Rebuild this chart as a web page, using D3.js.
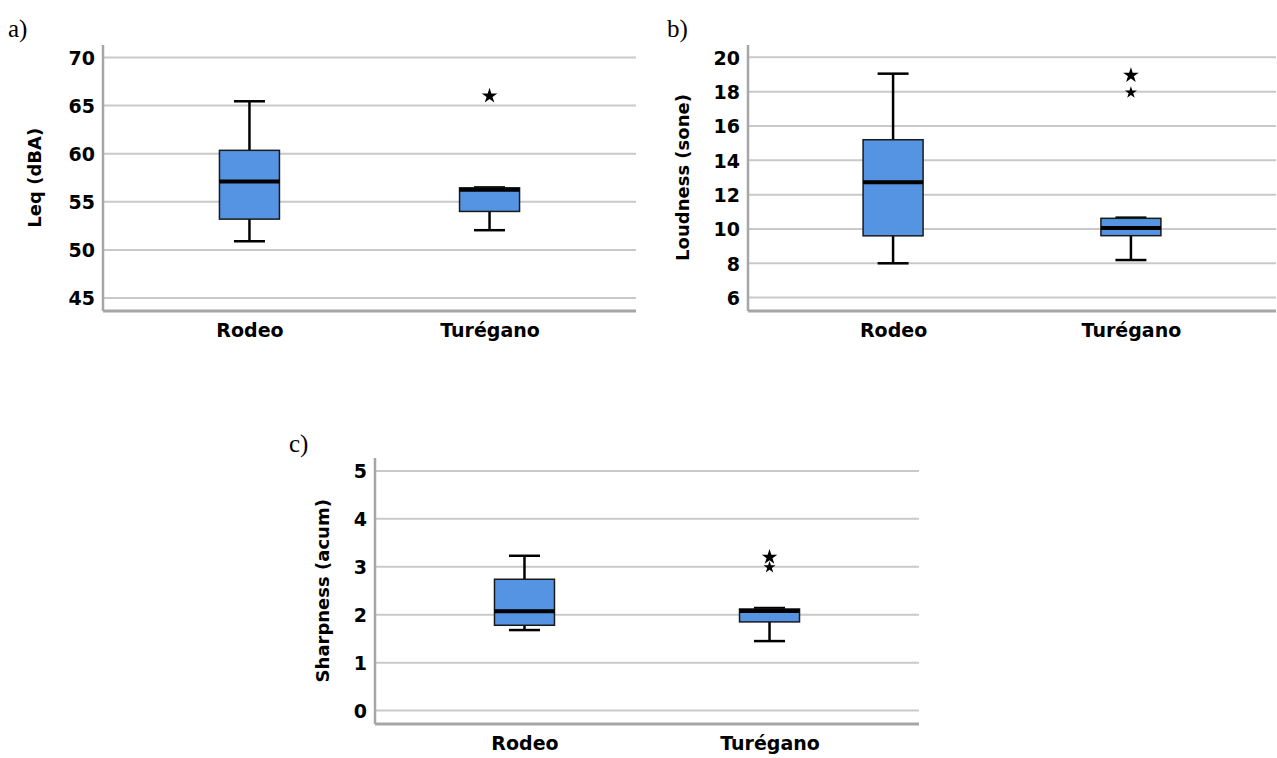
<!DOCTYPE html>
<html>
<head>
<meta charset="utf-8">
<script src="https://cdn.jsdelivr.net/npm/d3@7"></script>
<style>
  body { margin: 0; background: #fff; }
  text { font-family: "DejaVu Sans", sans-serif; font-weight: bold; }
  .panel-label { font-family: "Liberation Serif", serif; font-weight: normal; font-size: 25px; }
</style>
</head>
<body>
<script>
const categories = ["Rodeo", "Turégano"];

// [lowWhisker, q1, median, q3, highWhisker] per category
const leqStats = [[50.9, 53.2, 57.1, 60.35, 65.45], [52.05, 54.0, 56.25, 56.45, 56.5]];
const leqOutliers = [{ cat: "Turégano", value: 66.0, big: true }];
const leqTicks = [45, 50, 55, 60, 65, 70];

const loudStats = [[8.0, 9.6, 12.72, 15.2, 19.05], [8.19, 9.61, 10.05, 10.62, 10.66]];
const loudOutliers = [{ cat: "Turégano", value: 18.95, big: true }, { cat: "Turégano", value: 17.95, big: false }];
const loudTicks = [6, 8, 10, 12, 14, 16, 18, 20];

const sharpStats = [[1.68, 1.78, 2.07, 2.74, 3.23], [1.45, 1.85, 2.08, 2.12, 2.14]];
const sharpOutliers = [{ cat: "Turégano", value: 3.2, big: true }, { cat: "Turégano", value: 2.99, big: false }];
const sharpTicks = [0, 1, 2, 3, 4, 5];

const svg = d3.select("body").append("svg")
    .attr("width", 1277)
    .attr("height", 758);

function drawPanel(opt) {
    const x = d3.scalePoint()
        .domain(categories)
        .range([opt.left, opt.right])
        .padding(0.61);

    const y = d3.scaleLinear()
        .domain(opt.domain)
        .range([opt.bottom, opt.top]);

    const g = svg.append("g");

    // panel label
    g.append("text")
        .attr("class", "panel-label")
        .attr("x", opt.labelX)
        .attr("y", opt.labelY)
        .text(opt.label);

    // grid lines
    g.selectAll(".grid")
        .data(opt.ticks)
        .enter()
        .append("line")
        .attr("x1", opt.left)
        .attr("x2", opt.right)
        .attr("y1", d => y(d))
        .attr("y2", d => y(d))
        .attr("stroke", "#c9c9c9")
        .attr("stroke-width", 2);

    // y axis with labels only
    const yAxis = d3.axisLeft(y)
        .tickValues(opt.ticks)
        .tickFormat(d3.format("d"))
        .tickSize(0)
        .tickPadding(8);
    const ya = g.append("g")
        .attr("transform", `translate(${opt.left},0)`)
        .call(yAxis);
    ya.select(".domain").remove();
    ya.selectAll("text")
        .style("font-size", "19px")
        .attr("fill", "#000")
        .attr("dy", "0.36em");

    // x axis labels
    const xAxis = d3.axisBottom(x).tickSize(0).tickPadding(13);
    const xa = g.append("g")
        .attr("transform", `translate(0,${opt.bottom})`)
        .call(xAxis);
    xa.select(".domain").remove();
    xa.selectAll("text")
        .style("font-size", "19px")
        .attr("fill", "#000");

    // axis lines
    g.append("line")
        .attr("x1", opt.left).attr("x2", opt.left)
        .attr("y1", opt.top).attr("y2", opt.bottom)
        .attr("stroke", "#a6a6a6").attr("stroke-width", 2.5);
    g.append("line")
        .attr("x1", opt.left).attr("x2", opt.right)
        .attr("y1", opt.bottom).attr("y2", opt.bottom)
        .attr("stroke", "#a6a6a6").attr("stroke-width", 3);

    // y title
    g.append("text")
        .attr("transform", `translate(${opt.titleX},${(y(opt.ticks[0]) + y(opt.ticks[opt.ticks.length - 1])) / 2}) rotate(-90)`)
        .attr("text-anchor", "middle")
        .style("font-size", "18px")
        .text(opt.title);

    const boxW = 60, capW = 31;
    const boxes = g.selectAll(".box")
        .data(opt.stats)
        .enter()
        .append("g")
        .attr("transform", (d, i) => `translate(${x(categories[i])},0)`);

    boxes.append("line")
        .attr("y1", d => y(d[0])).attr("y2", d => y(d[4]))
        .attr("stroke", "#000").attr("stroke-width", 2.5);
    boxes.append("line")
        .attr("x1", -capW / 2).attr("x2", capW / 2)
        .attr("y1", d => y(d[0])).attr("y2", d => y(d[0]))
        .attr("stroke", "#000").attr("stroke-width", 2.5);
    boxes.append("line")
        .attr("x1", -capW / 2).attr("x2", capW / 2)
        .attr("y1", d => y(d[4])).attr("y2", d => y(d[4]))
        .attr("stroke", "#000").attr("stroke-width", 2.5);
    boxes.append("rect")
        .attr("x", -boxW / 2)
        .attr("width", boxW)
        .attr("y", d => y(d[3]))
        .attr("height", d => y(d[1]) - y(d[3]))
        .attr("fill", "#5594e2")
        .attr("stroke", "#1a1a1a")
        .attr("stroke-width", 1.5);
    boxes.append("line")
        .attr("x1", -boxW / 2).attr("x2", boxW / 2)
        .attr("y1", d => y(d[2])).attr("y2", d => y(d[2]))
        .attr("stroke", "#000").attr("stroke-width", 4);

    // extreme values
    g.selectAll(".out")
        .data(opt.outliers)
        .enter()
        .append("path")
        .attr("d", d => d3.symbol(d3.symbolStar, d.big ? 75 : 45)())
        .attr("transform", d => `translate(${x(d.cat)},${y(d.value)})`)
        .attr("fill", "#000");
}

drawPanel({
    label: "a)", labelX: 8, labelY: 37,
    left: 103, right: 636, top: 45, bottom: 311,
    domain: [43.65, 71.3], ticks: leqTicks,
    stats: leqStats, outliers: leqOutliers,
    title: "Leq (dBA)", titleX: 41
});

drawPanel({
    label: "b)", labelX: 667, labelY: 37,
    left: 748, right: 1276, top: 45, bottom: 311,
    domain: [5.22, 20.72], ticks: loudTicks,
    stats: loudStats, outliers: loudOutliers,
    title: "Loudness (sone)", titleX: 689
});

drawPanel({
    label: "c)", labelX: 289, labelY: 452,
    left: 375, right: 919, top: 458, bottom: 724,
    domain: [-0.28, 5.27], ticks: sharpTicks,
    stats: sharpStats, outliers: sharpOutliers,
    title: "Sharpness (acum)", titleX: 329
});
</script>
</body>
</html>
